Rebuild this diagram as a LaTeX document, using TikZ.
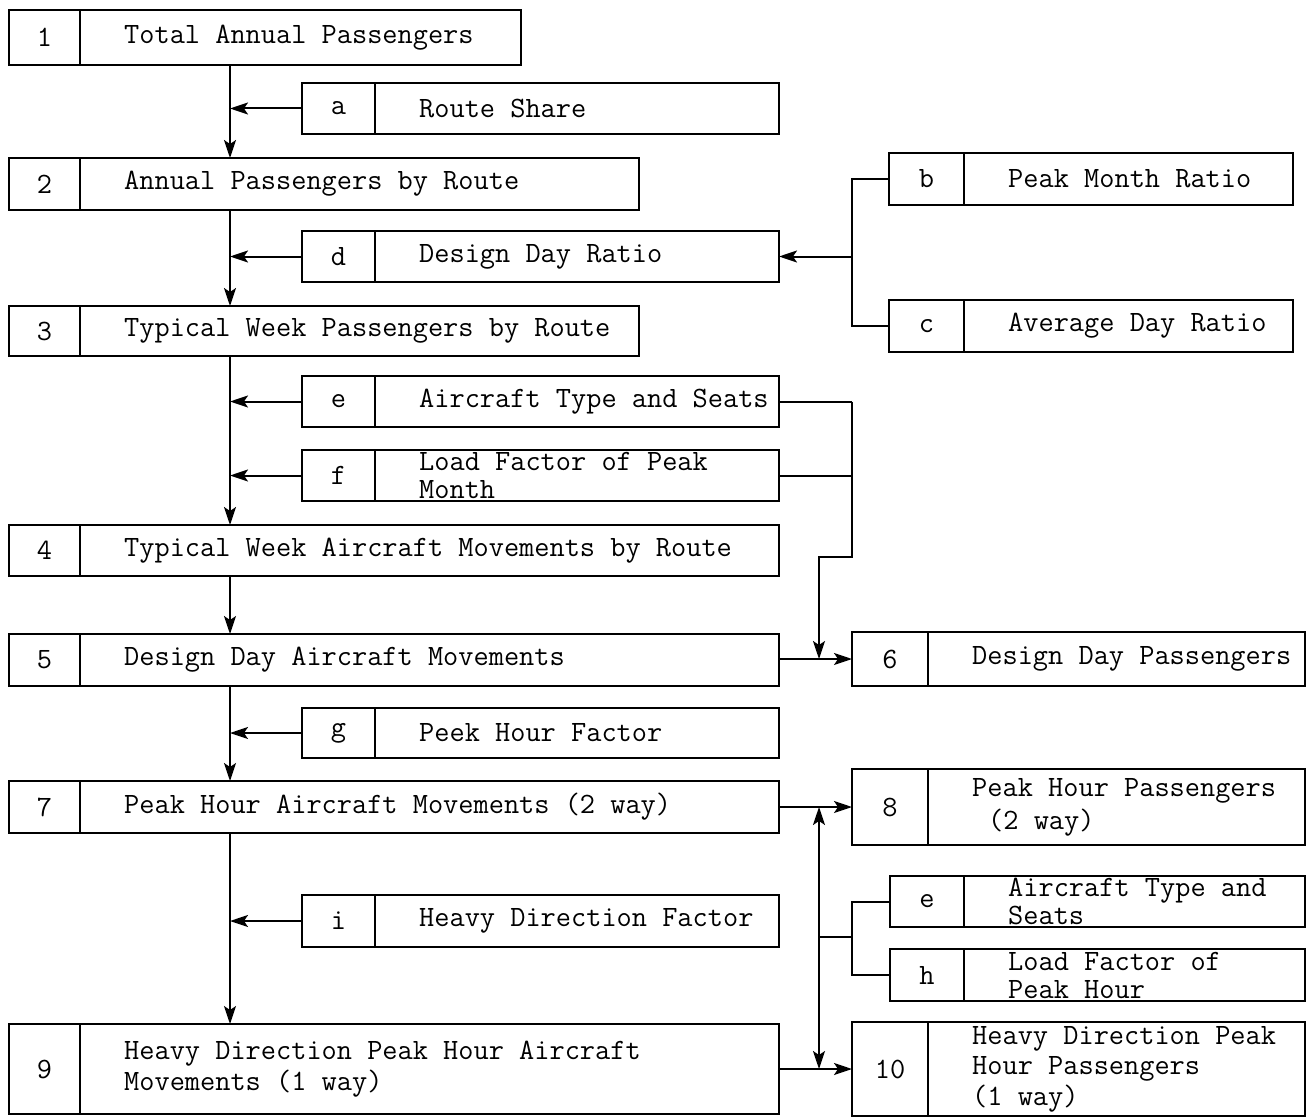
\documentclass[tikz,border=0pt]{standalone}
\usepackage{fontspec}
\usetikzlibrary{arrows.meta}
\tikzset{
  cell/.style={draw, line width=2pt, inner sep=0pt, outer sep=0pt, anchor=north west},
  lbl/.style={anchor=west, align=left, inner sep=0pt, font=\ttfamily\fontsize{29.5}{#1}\selectfont},
  lbl/.default=30,
  numtxt/.style={inner sep=0pt, font=\ttfamily\fontsize{29.5}{30}\selectfont},
  conn/.style={line width=2pt},
  tipstyle/.style={line width=2pt, -{Stealth[length=18pt,width=12pt,inset=4pt]}},
}
% name, x1, xdiv, x2, y1, y2, number, text, baselineskip
\newcommand\mkbox[9]{%
  \node[cell, minimum width={(#3-#2)*1pt}, minimum height={(#6-#5)*1pt}] (#1n) at (#2,#5) {};
  \node[cell, minimum width={(#4-#3)*1pt}, minimum height={(#6-#5)*1pt}] (#1) at (#3,#5) {};
  \node[numtxt] (#1k) at (#1n.center) {#7};
  \node[lbl=#9] (#1t) at ([xshift=44pt]#1.west) {#8};
}
\begin{document}
\begin{tikzpicture}[x=1pt, y=-1pt]
\useasboundingbox[fill=white] (0,0) rectangle (1313,1118);

\mkbox{B1}{9}{80}{521}{10}{65}{1}{Total Annual Passengers}{30}
\mkbox{Ba}{302}{375}{779}{83}{134}{a}{Route Share}{30}
\mkbox{B2}{9}{80}{639}{158}{210}{2}{Annual Passengers by Route}{30}
\mkbox{Bb}{889}{964}{1293}{153}{205}{b}{Peak Month Ratio}{30}
\mkbox{Bd}{302}{375}{779}{231}{282}{d}{Design Day Ratio}{30}
\mkbox{Bc}{889}{964}{1293}{300}{352}{c}{Average Day Ratio}{30}
\mkbox{B3}{9}{80}{639}{306}{356}{3}{Typical Week Passengers by Route}{30}
\mkbox{Be}{302}{375}{779}{376}{427}{e}{Aircraft Type and Seats}{30}
\mkbox{Bf}{302}{375}{779}{450}{501}{f}{Load Factor of Peak\\Month}{27.5}
\mkbox{B4}{9}{80}{779}{525}{576}{4}{Typical Week Aircraft Movements by Route}{30}
\mkbox{B5}{9}{80}{779}{634}{686}{5}{Design Day Aircraft Movements}{30}
\mkbox{B6}{852}{928}{1305}{632}{686}{6}{Design Day Passengers}{30}
\mkbox{Bg}{302}{375}{779}{708}{758}{g}{Peek Hour Factor}{30}
\mkbox{B7}{9}{80}{779}{781}{833}{7}{Peak Hour Aircraft Movements (2 way)}{30}
\mkbox{B8}{852}{928}{1305}{769}{845}{8}{Peak Hour Passengers\\\hspace*{16pt}(2 way)}{33}
\mkbox{Bi}{302}{375}{779}{895}{947}{i}{Heavy Direction Factor}{30}
\mkbox{Bee}{890}{964}{1305}{876}{927}{e}{Aircraft Type and\\Seats}{27.5}
\mkbox{Bh}{890}{964}{1305}{949}{1001}{h}{Load Factor of\\Peak Hour}{28}
\mkbox{B9}{9}{80}{779}{1024}{1114}{9}{Heavy Direction Peak Hour Aircraft\\Movements (1 way)}{31}
\mkbox{B10}{852}{928}{1305}{1022}{1116}{10}{Heavy Direction Peak\\Hour Passengers\\(1 way)}{30.5}

\coordinate (mx) at (230,0);
\coordinate (jx) at (852,0);
\coordinate (vx) at (819,0);
\coordinate (bend) at (0,557);
\coordinate (eh) at (852,937);

% main chain
\draw[tipstyle] (B1.south -| mx) -- (B2.north -| mx);
\draw[tipstyle] (B2.south -| mx) -- (B3.north -| mx);
\draw[tipstyle] (B3.south -| mx) -- (B4.north -| mx);
\draw[tipstyle] (B4.south -| mx) -- (B5.north -| mx);
\draw[tipstyle] (B5.south -| mx) -- (B7.north -| mx);
\draw[tipstyle] (B7.south -| mx) -- (B9.north -| mx);

% side inputs
\draw[tipstyle] (Ban.west) -- (Ban.west -| mx);
\draw[tipstyle] (Bdn.west) -- (Bdn.west -| mx);
\draw[tipstyle] (Ben.west) -- (Ben.west -| mx);
\draw[tipstyle] (Bfn.west) -- (Bfn.west -| mx);
\draw[tipstyle] (Bgn.west) -- (Bgn.west -| mx);
\draw[tipstyle] (Bin.west) -- (Bin.west -| mx);

% b, c to d
\draw[conn] (Bbn.west) -- (Bbn.west -| jx) -- (Bcn.west -| jx) -- (Bcn.west);
\draw[tipstyle] (Bd.east -| jx) -- (Bd.east);

% e, f to 6
\draw[conn] (Be.east) -- (Be.east -| jx);
\draw[conn] (Bf.east) -- (Bf.east -| jx);
\draw[tipstyle] (Be.east -| jx) -- (jx |- bend) -- (vx |- bend) -- (vx |- B6n.west);
\draw[tipstyle] (B5.east |- B6n.west) -- (B6n.west);

% 7 to 8, 9 to 10
\draw[tipstyle] (B7.east |- B8n.west) -- (B8n.west);
\draw[tipstyle] (B9.east) -- (B9.east -| B10n.west);
\draw[conn, {Stealth[length=18pt,width=12pt,inset=4pt]}-{Stealth[length=18pt,width=12pt,inset=4pt]}] (vx |- B8n.west) -- (vx |- B9.east);

% e, h to vertical
\draw[conn] (Been.west) -- (Been.west -| jx) -- (Bhn.west -| jx) -- (Bhn.west);
\draw[conn] (eh) -- (eh -| vx);
\end{tikzpicture}
\end{document}
